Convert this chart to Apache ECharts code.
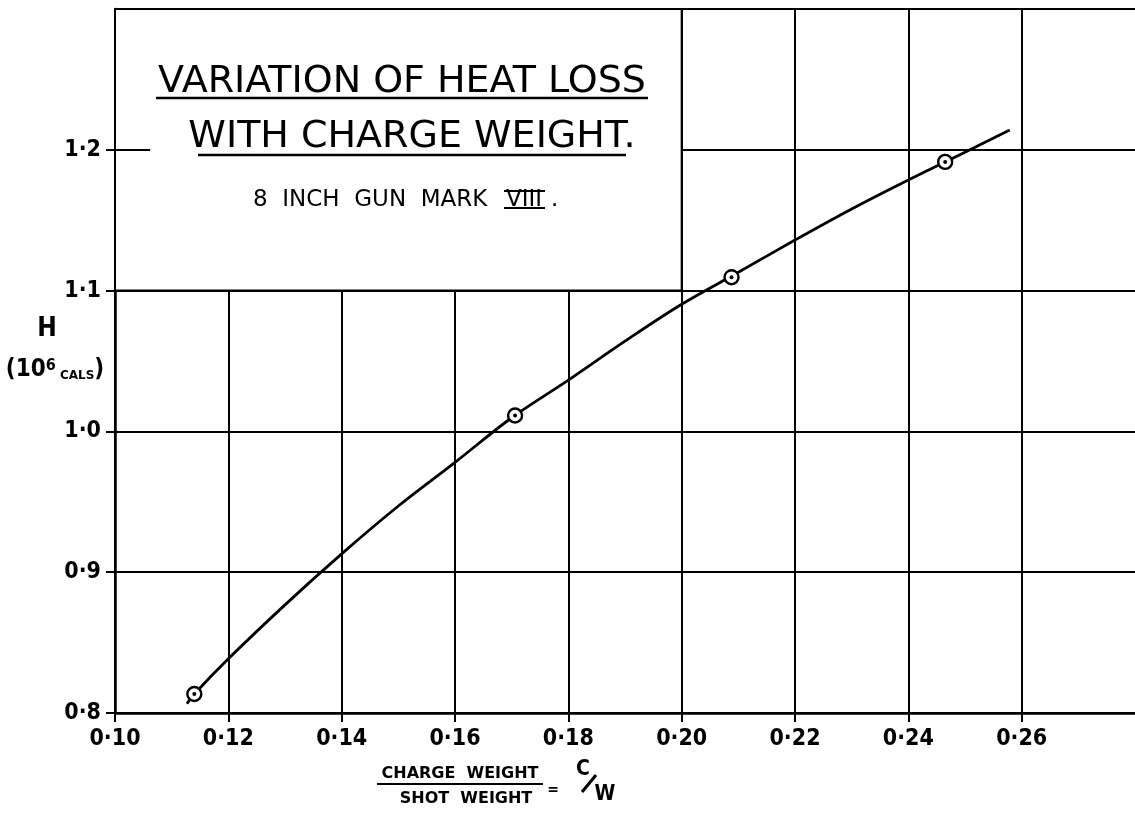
<!DOCTYPE html>
<html>
<head>
<meta charset="utf-8">
<script src="https://cdn.jsdelivr.net/npm/echarts@6/dist/echarts.min.js"></script>
<style>
html,body{margin:0;padding:0;background:#fff;}
#chart{width:1135px;height:813px;}
</style>
</head>
<body>
<div id="chart"></div>
<script>
// ---- data ----
const xTickValues = [0.10, 0.12, 0.14, 0.16, 0.18, 0.20, 0.22, 0.24, 0.26];
const xTickLabels = ['0·10', '0·12', '0·14', '0·16', '0·18', '0·20', '0·22', '0·24', '0·26'];
const yTickValues = [0.8, 0.9, 1.0, 1.1, 1.2];
const yTickLabels = ['0·8', '0·9', '1·0', '1·1', '1·2'];

// faired curve H vs C/W
const curveCW = [0.1127, 0.1140, 0.12, 0.13, 0.14, 0.15, 0.16, 0.17, 0.18, 0.19, 0.20, 0.21, 0.22, 0.23, 0.24, 0.25, 0.2579];
const curveH  = [0.8066, 0.8135, 0.8385, 0.8768, 0.9130, 0.9470, 0.9780, 1.0097, 1.0364, 1.0641, 1.0903, 1.1130, 1.1359, 1.1580, 1.1786, 1.1983, 1.2140];

// observed points
const pointCW = [0.1140, 0.1706, 0.2088, 0.2465];
const pointH  = [0.8135, 1.0113, 1.1095, 1.1914];

const FONT = 'DejaVu Sans';
const LBLFONT = '"DejaVu Sans Condensed", "DejaVu Sans"';
const chart = echarts.init(document.getElementById('chart'));

function labelFor(values, labels, v) {
  for (let i = 0; i < values.length; i++) {
    if (Math.abs(values[i] - v) < 1e-6) return labels[i];
  }
  return '';
}

const option = {
  backgroundColor: '#fff',
  animation: false,
  grid: { left: 115, width: 1021, top: 9, bottom: 100, containLabel: false },
  xAxis: [{
    type: 'value', min: 0.10, max: 0.28, interval: 0.02,
    axisLine: { show: true, onZero: false, lineStyle: { color: '#000', width: 2.5 } },
    axisTick: { show: true, length: 9, customValues: xTickValues, lineStyle: { color: '#000', width: 2 } },
    axisLabel: {
      margin: 15, color: '#000', fontFamily: LBLFONT, fontWeight: 'bold', fontSize: 23,
      customValues: xTickValues,
      formatter: v => labelFor(xTickValues, xTickLabels, v)
    },
    splitLine: { show: true, lineStyle: { color: '#000', width: 2 } }
  }, {
    type: 'value', position: 'top', min: 0.10, max: 0.28, interval: 0.02,
    axisLine: { show: true, onZero: false, lineStyle: { color: '#000', width: 2 } },
    axisTick: { show: false }, axisLabel: { show: false }, splitLine: { show: false }
  }],
  yAxis: {
    type: 'value', min: 0.8, max: 1.3, interval: 0.1,
    axisLine: { show: true, onZero: false, lineStyle: { color: '#000', width: 2.5 } },
    axisTick: { show: true, length: 9, customValues: yTickValues, lineStyle: { color: '#000', width: 2 } },
    axisLabel: {
      margin: 14, color: '#000', fontFamily: LBLFONT, fontWeight: 'bold', fontSize: 23,
      customValues: yTickValues,
      formatter: v => labelFor(yTickValues, yTickLabels, v)
    },
    splitLine: { show: true, lineStyle: { color: '#000', width: 2 } }
  },
  series: [
    {
      // white title panel cut out of the grid
      type: 'line', data: [], z: 1, silent: true,
      markArea: {
        silent: true,
        itemStyle: { color: '#fff', borderColor: '#000', borderWidth: 2 },
        data: [[{ coord: [0.10, 1.1] }, { coord: [0.20, 1.3] }]]
      }
    },
    {
      type: 'line', data: [], z: 2, silent: true,
      markLine: {
        silent: true, symbol: ['none', 'none'], label: { show: false },
        lineStyle: { color: '#000', width: 2, type: 'solid' },
        data: [[{ coord: [0.10, 1.2] }, { coord: [0.1062, 1.2] }]]
      }
    },
    {
      type: 'line', z: 3, smooth: 0.35, showSymbol: false, silent: true,
      lineStyle: { color: '#000', width: 2.8 },
      data: curveCW.map((x, i) => [x, curveH[i]])
    },
    {
      type: 'scatter', z: 4, symbol: 'circle', symbolSize: 14, silent: true,
      itemStyle: { color: '#fff', borderColor: '#000', borderWidth: 2.4, opacity: 1 },
      data: pointCW.map((x, i) => [x, pointH[i]])
    },
    {
      type: 'scatter', z: 5, symbol: 'circle', symbolSize: 4, silent: true,
      itemStyle: { color: '#000', opacity: 1 },
      data: pointCW.map((x, i) => [x, pointH[i]])
    }
  ],
  graphic: [
    { type: 'text', z: 100, style: { text: 'VARIATION OF HEAT LOSS', x: 402, y: 82, textAlign: 'center', textVerticalAlign: 'middle', font: '38px "DejaVu Sans"', fill: '#000' } },
    { type: 'line', z: 100, shape: { x1: 156, y1: 98, x2: 648, y2: 98 }, style: { stroke: '#000', lineWidth: 2.5 } },
    { type: 'text', z: 100, style: { text: 'WITH CHARGE WEIGHT.', x: 412, y: 137, textAlign: 'center', textVerticalAlign: 'middle', font: '38px "DejaVu Sans"', fill: '#000' } },
    { type: 'line', z: 100, shape: { x1: 198, y1: 155, x2: 626, y2: 155 }, style: { stroke: '#000', lineWidth: 2.5 } },
    { type: 'text', z: 100, style: { text: '8  INCH  GUN  MARK', x: 253, y: 200, textAlign: 'left', textVerticalAlign: 'middle', font: '23px "DejaVu Sans"', fill: '#000' } },
    { type: 'text', z: 100, style: { text: 'VIII', x: 524, y: 200, textAlign: 'center', textVerticalAlign: 'middle', font: '23px "DejaVu Sans"', fill: '#000' } },
    { type: 'line', z: 100, shape: { x1: 504, y1: 191, x2: 545, y2: 191 }, style: { stroke: '#000', lineWidth: 2 } },
    { type: 'line', z: 100, shape: { x1: 504, y1: 208, x2: 545, y2: 208 }, style: { stroke: '#000', lineWidth: 2 } },
    { type: 'text', z: 100, style: { text: '.', x: 551, y: 200, textAlign: 'left', textVerticalAlign: 'middle', font: '23px "DejaVu Sans"', fill: '#000' } },

    { type: 'text', z: 100, style: { text: 'H', x: 47, y: 329, textAlign: 'center', textVerticalAlign: 'middle', font: 'bold 26px "DejaVu Sans Condensed", "DejaVu Sans"', fill: '#000' } },
    { type: 'text', z: 100, style: {
        text: '{p|(10}{s|6}{c| CALS}{p|)}', x: 55, y: 370, textAlign: 'center', textVerticalAlign: 'middle',
        rich: {
          p: { fontFamily: LBLFONT, fontWeight: 'bold', fontSize: 24, fill: '#000', verticalAlign: 'middle' },
          s: { fontFamily: LBLFONT, fontWeight: 'bold', fontSize: 16, fill: '#000', verticalAlign: 'top' },
          c: { fontFamily: FONT, fontSize: 12, fontWeight: 'bold', fill: '#000', verticalAlign: 'bottom' }
        }
      } },

    { type: 'text', z: 100, style: { text: 'CHARGE  WEIGHT', x: 460, y: 774, textAlign: 'center', textVerticalAlign: 'middle', font: 'bold 16px "DejaVu Sans"', fill: '#000' } },
    { type: 'line', z: 100, shape: { x1: 377, y1: 784, x2: 543, y2: 784 }, style: { stroke: '#000', lineWidth: 2 } },
    { type: 'text', z: 100, style: { text: 'SHOT  WEIGHT', x: 466, y: 799, textAlign: 'center', textVerticalAlign: 'middle', font: 'bold 16px "DejaVu Sans"', fill: '#000' } },
    { type: 'text', z: 100, style: { text: '=', x: 553, y: 790, textAlign: 'center', textVerticalAlign: 'middle', font: 'bold 14px "DejaVu Sans"', fill: '#000' } },
    { type: 'text', z: 100, style: { text: 'C', x: 583, y: 770, textAlign: 'center', textVerticalAlign: 'middle', font: 'bold 21px "DejaVu Sans Condensed", "DejaVu Sans"', fill: '#000' } },
    { type: 'line', z: 100, shape: { x1: 582, y1: 792, x2: 596, y2: 775 }, style: { stroke: '#000', lineWidth: 3 } },
    { type: 'text', z: 100, style: { text: 'W', x: 605, y: 795, textAlign: 'center', textVerticalAlign: 'middle', font: 'bold 21px "DejaVu Sans Condensed", "DejaVu Sans"', fill: '#000' } }
  ]
};
chart.setOption(option);
</script>
</body>
</html>
